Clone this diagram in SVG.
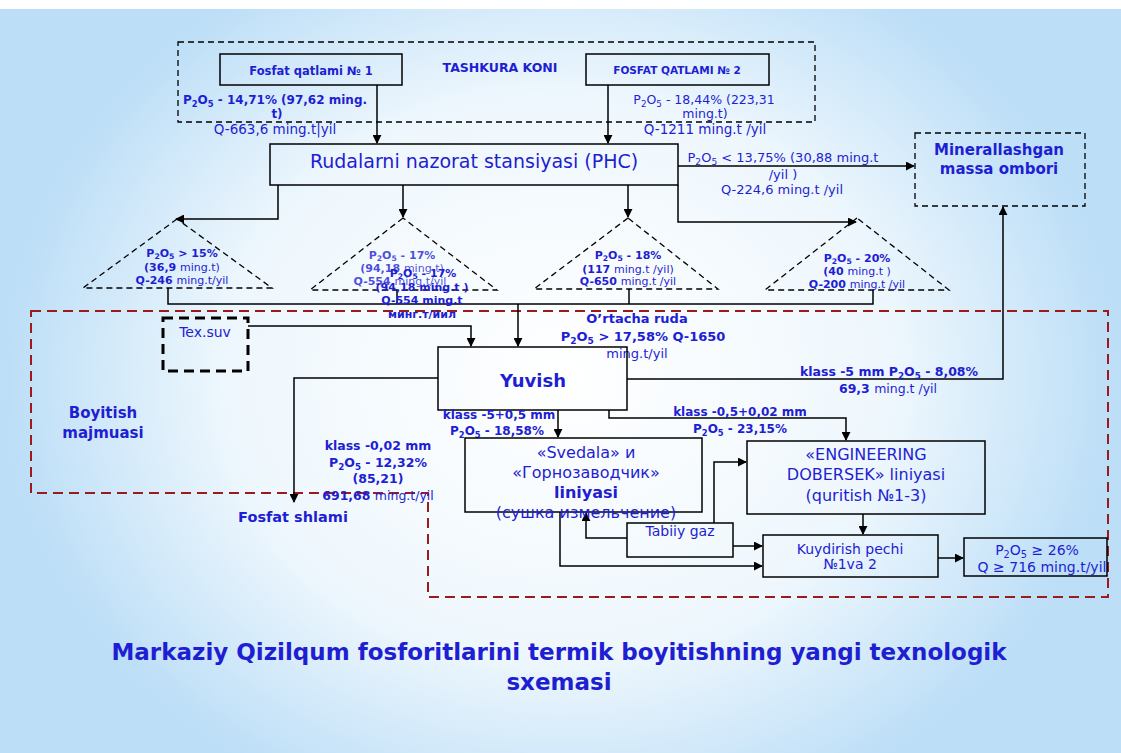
<svg xmlns="http://www.w3.org/2000/svg" width="1121" height="753" viewBox="0 0 1121 753">
<defs>
<radialGradient id="bg" cx="0.5" cy="0.5" r="0.62" gradientTransform="translate(0.1 0) scale(0.8 1)">
<stop offset="0" stop-color="#ffffff"/>
<stop offset="0.6" stop-color="#eef7fd"/>
<stop offset="1" stop-color="#bcdef7"/>
</radialGradient>
<marker id="ar" viewBox="0 0 10 10" refX="9" refY="5" markerWidth="9" markerHeight="9" markerUnits="userSpaceOnUse" orient="auto">
<path d="M0 0 L10 5 L0 10 Z" fill="#000"/>
</marker>
<style>
.t{font-family:"DejaVu Sans","Noto Sans",sans-serif;fill:#1e1ed2;text-anchor:middle}
.b{font-weight:bold}
.s{font-size:70%}
.box{fill:none;stroke:#000;stroke-width:1.5}
.dash{fill:none;stroke:#000;stroke-width:1.3;stroke-dasharray:6 4}
.c{fill:none;stroke:#000;stroke-width:1.5}
.ca{fill:none;stroke:#000;stroke-width:1.5;marker-end:url(#ar)}
</style>
</defs>
<rect width="1121" height="753" fill="url(#bg)"/>
<rect width="1121" height="9" fill="#ffffff"/>

<g id="region-tashkura">
<rect class="dash" x="178" y="42" width="637" height="80"/>
<text class="t b" x="500" y="72" font-size="12.5">TASHKURA KONI</text>
</g>
<g id="region-boyitish">
<path d="M31 311 H1108 V597 H428 V493 H31 Z" fill="none" stroke="#9b1b1b" stroke-width="2" stroke-dasharray="10 6"/>
<text class="t b" x="103" y="418" font-size="15">Boyitish</text>
<text class="t b" x="103" y="438" font-size="15">majmuasi</text>
</g>

<g id="connectors">
<path class="ca" d="M377 85 V143"/>
<path class="ca" d="M608 85 V143"/>
<path class="ca" d="M678 166 H914"/>
<path class="ca" d="M278 185 V219 H176"/>
<path class="ca" d="M403 185 V217"/>
<path class="ca" d="M628 185 V217"/>
<path class="ca" d="M678 185 V222 H856"/>
<path class="c" d="M168 288 V304 H873 V290"/>
<path class="c" d="M397 290 V304"/>
<path class="c" d="M629 289 V304"/>
<path class="ca" d="M518 304 V346"/>
<path class="ca" d="M248 326 H471 V346"/>
<path class="ca" d="M627 379 H1003 V207"/>
<path class="ca" d="M438 378 H294 V502"/>
<path class="ca" d="M558 410 V437"/>
<path class="ca" d="M609 410 V418 H846 V440"/>
<path class="ca" d="M627 538 H586 V513"/>
<path class="ca" d="M714 523 V462 H746"/>
<path class="ca" d="M733 546 H762"/>
<path class="ca" d="M560 512 V566 H762"/>
<path class="ca" d="M863 514 V534"/>
<path class="ca" d="M938 558 H963"/>
</g>

<g id="fosfat1">
<rect class="box" x="220" y="54" width="182" height="31"/>
<text class="t b" x="311" y="75" font-size="11.5">Fosfat qatlami № 1</text>
<text class="t b" x="275" y="104" font-size="12">P<tspan class="s" dy="3">2</tspan><tspan dy="-3">O</tspan><tspan class="s" dy="3">5</tspan><tspan dy="-3"> - 14,71% (97,62 ming.</tspan></text>
<text class="t b" x="277" y="118" font-size="12">t)</text>
<text class="t" x="275" y="134" font-size="13.5">Q-663,6 ming.t|yil</text>
</g>

<g id="fosfat2">
<rect class="box" x="586" y="54" width="183" height="31"/>
<text class="t b" x="677" y="74" font-size="10.5">FOSFAT QATLAMI № 2</text>
<text class="t" x="704" y="104" font-size="12.5">P<tspan class="s" dy="3">2</tspan><tspan dy="-3">O</tspan><tspan class="s" dy="3">5</tspan><tspan dy="-3"> - 18,44%  (223,31</tspan></text>
<text class="t" x="705" y="118" font-size="12.5">ming.t)</text>
<text class="t" x="705" y="134" font-size="13.5">Q-1211 ming.t /yil</text>
</g>

<g id="phc">
<rect class="box" x="270" y="144" width="408" height="41"/>
<text class="t" x="474" y="168" font-size="19">Rudalarni nazorat stansiyasi (PHC)</text>
</g>

<g id="label-minerallashgan-flow">
<text class="t" x="783" y="162" font-size="13">P<tspan class="s" dy="3">2</tspan><tspan dy="-3">O</tspan><tspan class="s" dy="3">5</tspan><tspan dy="-3"> &lt; 13,75% (30,88 ming.t</tspan></text>
<text class="t" x="783" y="179" font-size="13">/yil )</text>
<text class="t" x="782" y="194" font-size="13">Q-224,6 ming.t /yil</text>
</g>

<g id="minerallashgan">
<rect class="dash" x="915" y="133" width="170" height="73"/>
<text class="t b" x="999" y="155" font-size="15">Minerallashgan</text>
<text class="t b" x="999" y="174" font-size="15">massa ombori</text>
</g>

<g id="tri1">
<polygon class="dash" points="177,219 83,288 272,288"/>
<text class="t b" x="182" y="257" font-size="11">P<tspan class="s" dy="2">2</tspan><tspan dy="-2">O</tspan><tspan class="s" dy="2">5</tspan><tspan dy="-2"> &gt; 15%</tspan></text>
<text class="t b" x="182" y="271" font-size="11">(36,9 <tspan font-weight="normal">ming.t)</tspan></text>
<text class="t b" x="182" y="284" font-size="11">Q-246 <tspan font-weight="normal">ming.t/yil</tspan></text>
</g>

<g id="tri2">
<polygon class="dash" points="403,218 310,290 497,290"/>
<text class="t b" x="402" y="259" font-size="11" fill-opacity="0.8">P<tspan class="s" dy="2">2</tspan><tspan dy="-2">O</tspan><tspan class="s" dy="2">5</tspan><tspan dy="-2"> - 17%</tspan></text>
<text class="t b" x="402" y="272" font-size="11" fill-opacity="0.8">(94,18 <tspan font-weight="normal">ming.t)</tspan></text>
<text class="t b" x="400" y="285" font-size="11" fill-opacity="0.8">Q-554 <tspan font-weight="normal">ming.t/yil</tspan></text>
<text class="t b" x="423" y="277" font-size="11">P<tspan class="s" dy="2">2</tspan><tspan dy="-2">O</tspan><tspan class="s" dy="2">5</tspan><tspan dy="-2"> - 17%</tspan></text>
<text class="t b" x="422" y="291" font-size="11">(94,18 ming.t )</text>
<text class="t b" x="422" y="304" font-size="11">Q-554 ming.t</text>
<text class="t b" x="422" y="318" font-size="11">минг.т/йил</text>
</g>

<g id="tri3">
<polygon class="dash" points="628,218 534,289 718,289"/>
<text class="t b" x="628" y="259" font-size="11">P<tspan class="s" dy="2">2</tspan><tspan dy="-2">O</tspan><tspan class="s" dy="2">5</tspan><tspan dy="-2"> - 18%</tspan></text>
<text class="t b" x="628" y="273" font-size="11">(117 <tspan font-weight="normal">ming.t /yil)</tspan></text>
<text class="t b" x="628" y="285" font-size="11">Q-650 <tspan font-weight="normal">ming.t /yil</tspan></text>
</g>

<g id="tri4">
<polygon class="dash" points="857,218 765,290 949,290"/>
<text class="t b" x="857" y="262" font-size="11">P<tspan class="s" dy="2">2</tspan><tspan dy="-2">O</tspan><tspan class="s" dy="2">5</tspan><tspan dy="-2"> - 20%</tspan></text>
<text class="t b" x="857" y="275" font-size="11">(40 <tspan font-weight="normal">ming.t )</tspan></text>
<text class="t b" x="857" y="288" font-size="11">Q-200 <tspan font-weight="normal">ming.t /yil</tspan></text>
</g>

<g id="texsuv">
<rect x="163" y="318" width="85" height="53" fill="none" stroke="#000" stroke-width="3" stroke-dasharray="10 6"/>
<text class="t" x="205" y="337" font-size="14">Tex.suv</text>
</g>

<g id="ortacha-label">
<text class="t b" x="637" y="323" font-size="13">O’rtacha ruda</text>
<text class="t b" x="643" y="341" font-size="13">P<tspan class="s" dy="3">2</tspan><tspan dy="-3">O</tspan><tspan class="s" dy="3">5</tspan><tspan dy="-3"> &gt; 17,58% Q-1650</tspan></text>
<text class="t" x="637" y="358" font-size="13">ming.t/yil</text>
</g>

<g id="yuvish">
<rect class="box" x="438" y="347" width="189" height="63"/>
<text class="t b" x="533" y="387" font-size="18">Yuvish</text>
</g>

<g id="label-klass5">
<text class="t b" x="889" y="376" font-size="12.5">klass -5 mm P<tspan class="s" dy="3">2</tspan><tspan dy="-3">O</tspan><tspan class="s" dy="3">5</tspan><tspan dy="-3"> - 8,08%</tspan></text>
<text class="t b" x="888" y="393" font-size="12.5">69,3 <tspan font-weight="normal">ming.t /yil</tspan></text>
</g>

<g id="label-klass-5-05">
<text class="t b" x="499" y="419" font-size="12">klass -5+0,5 mm</text>
<text class="t b" x="497" y="435" font-size="12">P<tspan class="s" dy="3">2</tspan><tspan dy="-3">O</tspan><tspan class="s" dy="3">5</tspan><tspan dy="-3"> - 18,58%</tspan></text>
</g>

<g id="label-klass-05-002">
<text class="t b" x="740" y="416" font-size="12">klass -0,5+0,02 mm</text>
<text class="t b" x="740" y="433" font-size="12">P<tspan class="s" dy="3">2</tspan><tspan dy="-3">O</tspan><tspan class="s" dy="3">5</tspan><tspan dy="-3"> - 23,15%</tspan></text>
</g>

<g id="label-klass-002">
<text class="t b" x="378" y="450" font-size="12.5">klass -0,02 mm</text>
<text class="t b" x="378" y="467" font-size="12.5">P<tspan class="s" dy="3">2</tspan><tspan dy="-3">O</tspan><tspan class="s" dy="3">5</tspan><tspan dy="-3"> - 12,32%</tspan></text>
<text class="t b" x="378" y="483" font-size="12.5">(85,21)</text>
<text class="t b" x="378" y="500" font-size="12.5">691,68 <tspan font-weight="normal">ming.t/yil</tspan></text>
</g>

<g id="fosfat-shlami">
<text class="t b" x="293" y="522" font-size="14.5">Fosfat shlami</text>
</g>

<g id="svedala">
<rect class="box" x="465" y="438" width="237" height="74"/>
<text class="t" x="586" y="458" font-size="16">«Svedala» и</text>
<text class="t" x="586" y="478" font-size="16">«Горнозаводчик»</text>
<text class="t b" x="586" y="498" font-size="16">liniyasi</text>
<text class="t" x="586" y="518" font-size="16">(сушка измельчение)</text>
</g>

<g id="engineering">
<rect class="box" x="747" y="441" width="238" height="73"/>
<text class="t" x="866" y="460" font-size="16">«ENGINEERING</text>
<text class="t" x="866" y="480" font-size="16">DOBERSEK» liniyasi</text>
<text class="t" x="866" y="501" font-size="16">(quritish №1-3)</text>
</g>

<g id="tabiiy-gaz">
<rect class="box" x="627" y="523" width="106" height="34"/>
<text class="t" x="680" y="536" font-size="14">Tabiiy gaz</text>
</g>

<g id="kuydirish">
<rect class="box" x="763" y="535" width="175" height="42"/>
<text class="t" x="850" y="554" font-size="14">Kuydirish pechi</text>
<text class="t" x="850" y="569" font-size="14">№1va 2</text>
</g>

<g id="result">
<rect class="box" x="964" y="538" width="143" height="38"/>
<text class="t" x="1037" y="555" font-size="14">P<tspan class="s" dy="3">2</tspan><tspan dy="-3">O</tspan><tspan class="s" dy="3">5</tspan><tspan dy="-3"> ≥ 26%</tspan></text>
<text class="t" x="1042" y="572" font-size="14">Q ≥ 716 ming.t/yil</text>
</g>

<g id="title">
<text class="t b" x="559" y="660" font-size="23" fill="#2424c8">Markaziy Qizilqum fosforitlarini termik boyitishning yangi texnologik</text>
<text class="t b" x="559" y="690" font-size="23" fill="#2424c8">sxemasi</text>
</g>
</svg>
